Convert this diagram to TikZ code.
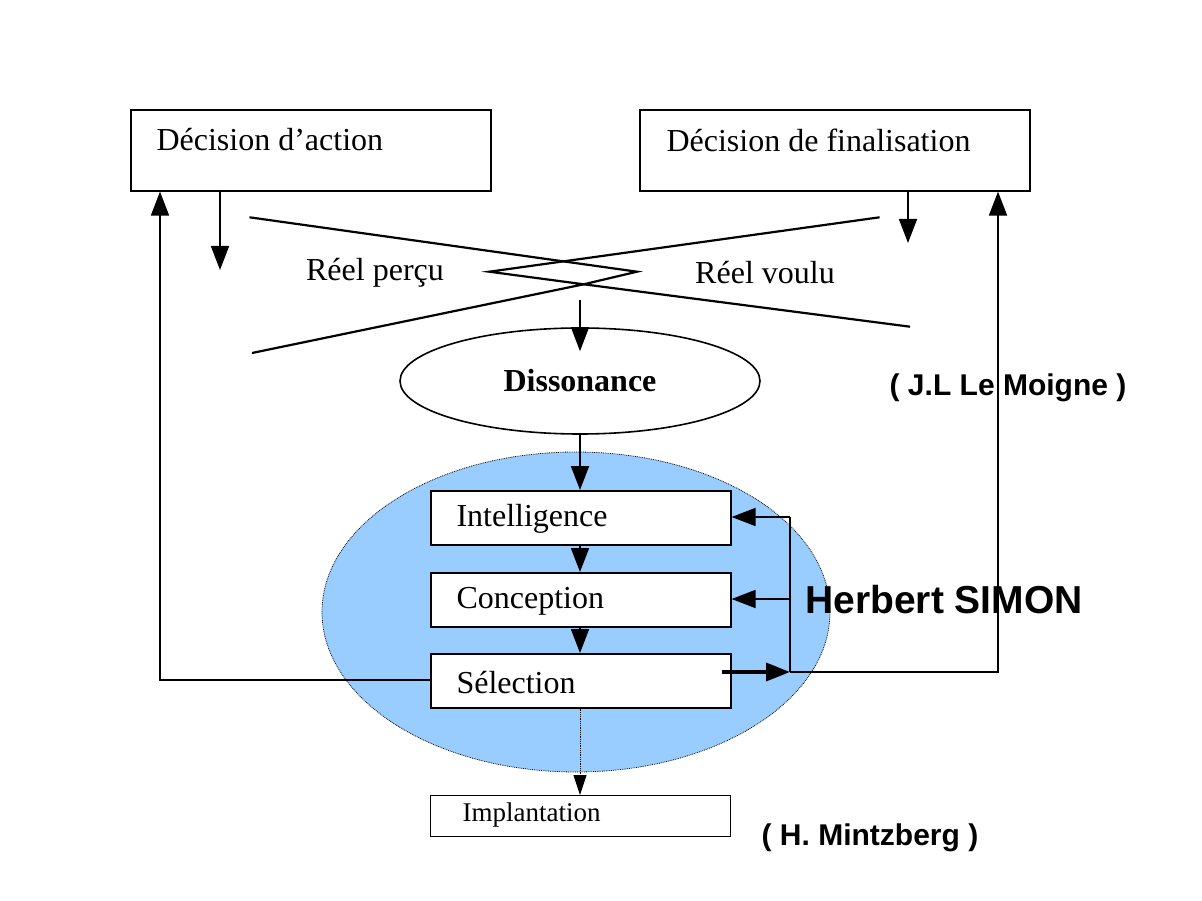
\documentclass[tikz,border=0pt]{standalone}
\usepackage{fontspec}
\setmainfont{Liberation Serif}
\newfontfamily\sansf{Liberation Sans}
\usetikzlibrary{arrows.meta,shapes.geometric}
\definecolor{lblue}{RGB}{153,204,255}
\begin{document}
\begin{tikzpicture}[x=1pt,y=-1pt,
  box/.style={draw,line width=1.6pt,minimum height=54pt,minimum width=300pt,anchor=north west,inner sep=0pt},
  bigbox/.style={draw,line width=1.6pt,anchor=north west},
  lbl/.style={font=\fontsize{32}{32}\selectfont},
  arr/.style={-{Triangle[length=24pt,width=18pt]},line width=1.8pt},
  ln/.style={line width=2.2pt}]
\useasboundingbox (0,0) rectangle (1202,901);
\node[bigbox,minimum width=360pt,minimum height=81pt] (da) at (130,109) {};
\node[lbl,anchor=west] at (153,140) {Décision d’action};
\node[bigbox,minimum width=390pt,minimum height=81pt] (df) at (639,109) {};
\node[lbl,anchor=west] at (663,140) {Décision de finalisation};
% cross
\draw[ln] (249.5,217.3) -- (637,271.7) -- (583.7,284.3) -- (910,326.7);
\draw[ln] (879.6,217.3) -- (489.3,271.7) -- (583.7,284.3) -- (252,353);
\node[lbl] at (375,273) {Réel perçu};
\node[lbl] at (765,273) {Réel voulu};
\coordinate (a1) at (220,190); \coordinate (a2) at (220,270);
\draw[arr] (a1) -- (a2);
\coordinate (b1) at (908,190); \coordinate (b2) at (908,243);
\draw[arr] (b1) -- (b2);
% ellipses
\node[draw,ellipse,line width=1.6pt,minimum width=360pt,minimum height=106pt,inner sep=0pt,font=\bfseries\fontsize{32}{32}\selectfont] (dis) at (580,381) {Dissonance};
\coordinate (c1) at (580,300);
\draw[arr,line width=1.2pt] (c1) -- ([yshift=-24pt]dis.north);
\fill[lblue] (576,612) ellipse [x radius=254, y radius=160];
\draw[densely dotted,line width=0.8pt] (576,612) ellipse [x radius=254, y radius=160];
\node[box,fill=white] (int) at (430,490) {};
\node[lbl,anchor=west] at (453,519) {Intelligence};
\node[box,fill=white] (con) at (430,572) {};
\node[lbl,anchor=west] at (453,601) {Conception};
\node[box,fill=white] (sel) at (430,653) {};
\node[lbl,anchor=west] at (453,683) {Sélection};
\node[draw,line width=0.8pt,minimum width=300pt,minimum height=41pt,anchor=north west,inner sep=0pt] (imp) at (430,795) {};
\node[anchor=west,font=\fontsize{27}{27}\selectfont] at (459,815) {Implantation};
\draw[arr] (dis.south) -- (int.north -| dis.south);
\draw[arr] (int.south -| 580,0) -- (con.north -| 580,0);
\draw[arr] (con.south -| 580,0) -- (sel.north -| 580,0);
\draw[densely dotted,line width=0.8pt,-{Triangle[length=20pt,width=13pt]}] (sel.south -| 580,0) -- (imp.north -| 580,0);
% feedback
\coordinate (s1) at (722,672); \coordinate (j) at (790,672);
\draw[arr,line width=3.5pt] (s1) -- (j);
\draw[line width=2pt] (j) -- (790,517);
\draw[arr] (790,517) -- (int.east |- 0,517);
\draw[arr] (790,599) -- (con.east |- 0,599);
\draw[arr] (j) -- (998,672) -- (df.south -| 998,0);
\draw[arr] (sel.west |- 0,680) -- (160,680) -- (da.south -| 160,0);
\node[font=\sansf\bfseries\fontsize{39}{39}\selectfont] at (944,600) {Herbert SIMON};
\node[font=\sansf\bfseries\fontsize{30}{30}\selectfont] at (1008,388) {( J.L Le Moigne )};
\node[font=\sansf\bfseries\fontsize{30}{30}\selectfont] at (870,838) {( H. Mintzberg )};
\end{tikzpicture}
\end{document}
